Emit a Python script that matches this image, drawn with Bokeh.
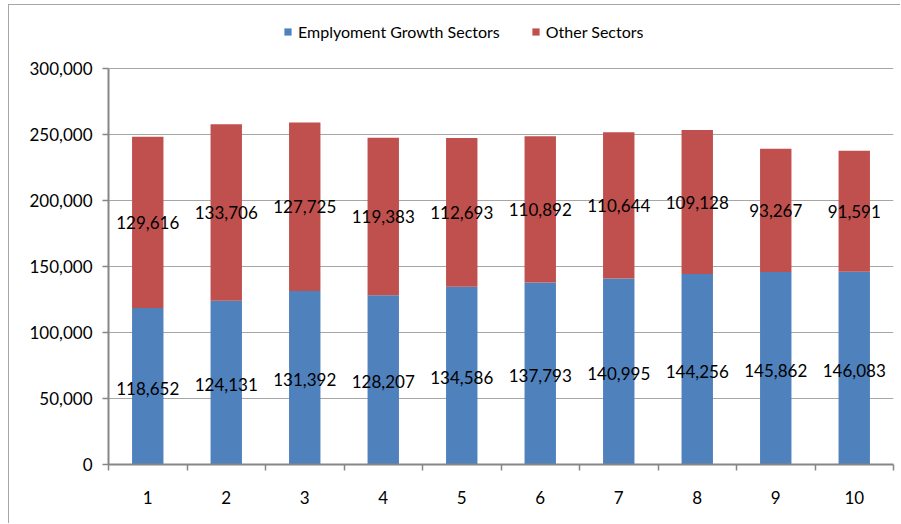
from bokeh.plotting import figure
from bokeh.models import (ColumnDataSource, FixedTicker, NumeralTickFormatter,
                          Legend, LegendItem, Range1d)
from bokeh.core.properties import value
from bokeh.embed import file_html
from bokeh.resources import INLINE

categories = ["1", "2", "3", "4", "5", "6", "7", "8", "9", "10"]
growth = [118652, 124131, 131392, 128207, 134586, 137793, 140995, 144256, 145862, 146083]
other = [129616, 133706, 127725, 119383, 112693, 110892, 110644, 109128, 93267, 91591]
y_ticks = [0, 50000, 100000, 150000, 200000, 250000, 300000]
series_names = ["Emplyoment Growth Sectors", "Other Sectors"]

BLUE = "#4F81BD"
RED = "#C0504D"
FONT = "Lato"

# layout (pixels): canvas height, frame top inset of the 300,000 line, frame bottom border
H = 519
FRAME_BOTTOM_BORDER = 60
AXIS_TOP_PX = 63            # distance from canvas top to the 300,000 gridline
frame_h = H - FRAME_BOTTOM_BORDER
y_max = y_ticks[-1]
y_end = y_max * frame_h / (frame_h - AXIS_TOP_PX)

x = list(range(1, len(categories) + 1))
top_total = [g + o for g, o in zip(growth, other)]
src = ColumnDataSource(dict(
    x=x, growth=growth, other=other, total=top_total,
    g_mid=[g / 2 for g in growth],
    o_mid=[g + o / 2 for g, o in zip(growth, other)],
    g_lab=[f"{v:,}" for v in growth],
    o_lab=[f"{v:,}" for v in other],
))

p = figure(width=892, height=H, output_backend="svg", toolbar_location=None,
           x_range=Range1d(0.5, len(categories) + 0.5), y_range=Range1d(0, y_end),
           min_border_left=99, min_border_right=8, min_border_top=0,
           min_border_bottom=FRAME_BOTTOM_BORDER, outline_line_color=None)
p.styles = {"margin-left": "8px", "margin-top": "4px",
            "border-top": "1px solid #a6a6a6", "border-left": "1px solid #a6a6a6"}

r1 = p.vbar(x="x", bottom=0, top="growth", width=0.4, source=src,
            fill_color=BLUE, line_color=None)
r2 = p.vbar(x="x", bottom="growth", top="total", width=0.4, source=src,
            fill_color=RED, line_color=None)

p.text(x="x", y="g_mid", text="g_lab", source=src, text_align="center",
       text_baseline="middle", text_font=value(FONT), text_font_size="17px",
       text_color="#000000", y_offset=2)
p.text(x="x", y="o_mid", text="o_lab", source=src, text_align="center",
       text_baseline="middle", text_font=value(FONT), text_font_size="17px",
       text_color="#000000")

# y axis
p.yaxis.ticker = FixedTicker(ticks=y_ticks)
p.yaxis.formatter = NumeralTickFormatter(format="0,0")
p.yaxis.bounds = (0, y_max)
p.yaxis.major_tick_out = 6
p.yaxis.major_tick_in = 0
p.yaxis.minor_tick_line_color = None
p.yaxis.major_label_standoff = 10

# x axis: labels at centers, ticks at boundaries
p.xaxis.ticker = FixedTicker(ticks=x, minor_ticks=[i + 0.5 for i in range(0, len(categories) + 1)])
p.xaxis.major_label_overrides = {i: c for i, c in zip(x, categories)}
p.xaxis.major_tick_out = 0
p.xaxis.major_tick_in = 0
p.xaxis.minor_tick_out = 6
p.xaxis.minor_tick_in = 0
p.xaxis.minor_tick_line_color = "#868686"
p.xaxis.minor_tick_line_width = 1.5
p.xaxis.major_label_standoff = 20

for ax in (p.xaxis, p.yaxis):
    ax.axis_line_color = "#868686"
    ax.axis_line_width = 2
    ax.major_tick_line_color = "#868686"
    ax.major_tick_line_width = 1.5
    ax.major_label_text_font = FONT
    ax.major_label_text_font_size = "17px"
    ax.major_label_text_color = "#000000"

p.xgrid.grid_line_color = None
p.ygrid.grid_line_color = "#a6a6a6"
p.ygrid.grid_line_width = 1
p.ygrid.ticker = FixedTicker(ticks=y_ticks)

legend = Legend(items=[LegendItem(label=series_names[0], renderers=[r1]),
                       LegendItem(label=series_names[1], renderers=[r2])],
                orientation="horizontal", location=(175, 423),
                glyph_width=9, glyph_height=9, label_standoff=6, spacing=31,
                padding=0, margin=0, border_line_color=None, background_fill_alpha=0,
                label_text_font=FONT, label_text_font_size="16px",
                label_text_color="#000000")
p.add_layout(legend, "center")

open("out.html", "w").write(file_html(p, INLINE))
